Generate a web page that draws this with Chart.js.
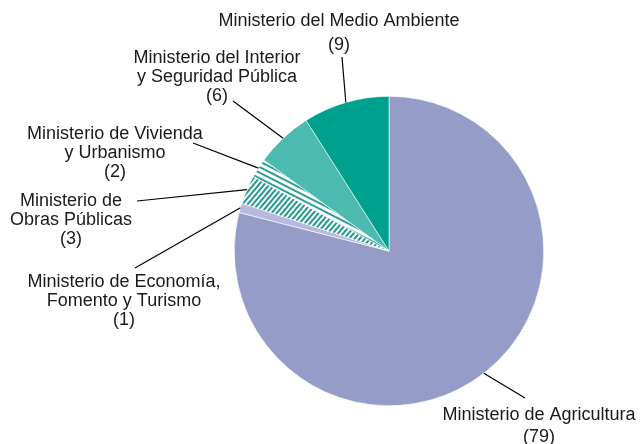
<!DOCTYPE html>
<html><head><meta charset="utf-8">
<script src="https://cdn.jsdelivr.net/npm/chart.js@4"></script>
<style>html,body{margin:0;padding:0;background:#fff}canvas{display:block}</style>
</head><body>
<canvas id="c" width="640" height="444"></canvas>
<script>
const categories = ["Ministerio de Agricultura","Ministerio de Economía, Fomento y Turismo","Ministerio de Obras Públicas","Ministerio de Vivienda y Urbanismo","Ministerio del Interior y Seguridad Pública","Ministerio del Medio Ambiente"];
const values = [79, 1, 3, 2, 6, 9];
const labelLines = [
  ["Ministerio de Agricultura","(79)"],
  ["Ministerio de Economía,","Fomento y Turismo","(1)"],
  ["Ministerio de","Obras Públicas","(3)"],
  ["Ministerio de Vivienda","y Urbanismo","(2)"],
  ["Ministerio del Interior","y Seguridad Pública","(6)"],
  ["Ministerio del Medio Ambiente","(9)"]
];

function stripes(angleDeg, period, lineW, color){
  const t = document.createElement('canvas');
  t.width = 20; t.height = period;
  const g = t.getContext('2d');
  g.fillStyle = '#fff'; g.fillRect(0,0,20,period);
  g.fillStyle = color; g.fillRect(0,0,20,lineW);
  const p = document.getElementById('c').getContext('2d').createPattern(t,'repeat');
  const m = new DOMMatrix(); m.rotateSelf(angleDeg);
  p.setTransform(m);
  return p;
}
const colors = ['#949cc7','#b9b8de', stripes(-50,4.6,2,'#22998d'), stripes(27,5,2,'#2aa196'), '#4cbab0', '#00a08f'];

const layout = [
  {x:539, y:415, lh:22, ax:525, ay:398},
  {x:124, y:282, lh:19, ax:135, ay:268},
  {x:71,  y:201, lh:19, ax:137, ay:201},
  {x:115, y:134, lh:19, ax:193, ay:143},
  {x:217, y:58,  lh:19, ax:233, ay:101},
  {x:339, y:21,  lh:24, ax:342, ay:57}
];

const labelPlugin = {
  id:'labels',
  afterDraw(chart){
    const ctx = chart.ctx;
    const meta = chart.getDatasetMeta(0);
    ctx.save();
    ctx.font = '18px "Liberation Sans", Arial, sans-serif';
    ctx.fillStyle = '#1a1a1a';
    ctx.textAlign = 'center';
    ctx.textBaseline = 'middle';
    layout.forEach((L,i)=>{
      labelLines[i].forEach((s,k)=>ctx.fillText(s, L.x, L.y + k*L.lh));
      const arc = meta.data[i];
      const p = arc.getProps(['x','y','startAngle','endAngle','outerRadius'], true);
      const mid = (p.startAngle + p.endAngle)/2;
      const r = p.outerRadius;
      const ex = p.x + Math.cos(mid)*r, ey = p.y + Math.sin(mid)*r;
      ctx.strokeStyle = '#000'; ctx.lineWidth = 1.2;
      ctx.beginPath(); ctx.moveTo(L.ax, L.ay); ctx.lineTo(ex, ey); ctx.stroke();
    });
    ctx.restore();
  }
};

new Chart(document.getElementById('c'), {
  type:'pie',
  data:{labels:categories, datasets:[{data:values, backgroundColor:colors, borderColor:'#ffffff', borderWidth:0.6}]},
  options:{
    responsive:false, animation:false,
    layout:{padding:{left:234, right:96, top:96, bottom:38}},
    plugins:{legend:{display:false}, tooltip:{enabled:false}}
  },
  plugins:[labelPlugin]
});
</script>
</body></html>
